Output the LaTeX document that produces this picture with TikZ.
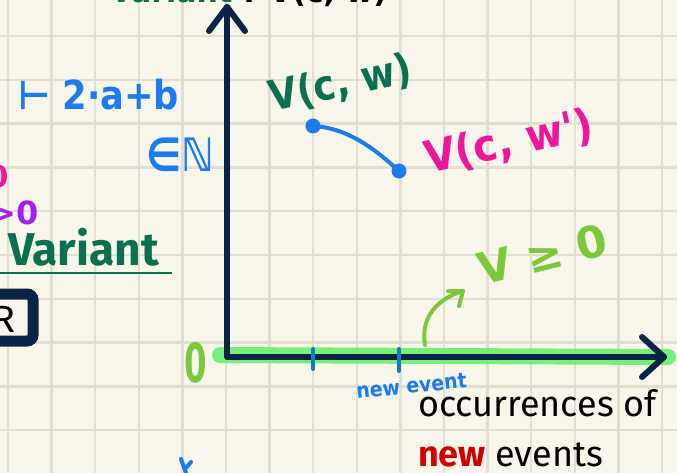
\documentclass[tikz,border=0pt]{standalone}
\usepackage{fontspec}
\setmainfont{Fira Sans}
\newfontfamily\hand{DejaVu Sans}
\usetikzlibrary{calc}
\definecolor{bg}{HTML}{F8F6EA}
\definecolor{gridc}{HTML}{E2DFD2}
\definecolor{navy}{HTML}{0B2345}
\definecolor{dgreen}{HTML}{0A7050}
\definecolor{pblue}{HTML}{1A7CF0}
\definecolor{ppink}{HTML}{F0169C}
\definecolor{ppurple}{HTML}{A020F0}
\definecolor{lgreen}{HTML}{7DC83A}
\definecolor{hilite}{HTML}{70F070}
\definecolor{pred}{HTML}{D00000}
\tikzset{
  gridline/.style={gridc, line width=2.5},
  axisline/.style={navy, line width=6, line cap=round, line join=round},
  pen/.style={line width=4, line cap=round, line join=round},
  handtxt/.style={inner sep=0pt, font=\hand},
  printtxt/.style={inner sep=0pt},
}
\begin{document}
\begin{tikzpicture}[x=1pt,y=-1pt]
\useasboundingbox (0,0) rectangle (677,473);
\clip (0,0) rectangle (677,473);
\fill[bg] (0,0) rectangle (677,473);
\foreach \i in {0,...,15} \draw[gridline] ({8+43.6*\i},0) -- ({8+43.6*\i},473);
\foreach \j in {0,...,10} \draw[gridline] (0,{36+43.8*\j}) -- (677,{36+43.8*\j});

% coordinates
\coordinate (o) at (227,357);
\coordinate (ytop) at (227,7);
\coordinate (xend) at (664,357);
\coordinate (t1) at (313,349);
\coordinate (t1b) at (313,369);
\coordinate (t2) at (399,349);
\coordinate (t2b) at (399,371);

% highlight
\draw[hilite, line width=16, line cap=round, opacity=0.95] (220,355) -- (668,357);

% axes
\draw[axisline] (ytop) -- (o) -- (xend);
\draw[axisline] ($(ytop)+(-18,24)$) -- (ytop) -- ($(ytop)+(18,24)$);
\draw[axisline] ($(xend)+(-22,-20)$) -- (xend) -- ($(xend)+(-22,20)$);

% ticks
\draw[pen, pblue!60!teal] (t1) -- (t1b);
\draw[pen, pblue!60!teal] (t2) -- (t2b);

% top cut-off label
\node[handtxt, anchor=base, dgreen, font=\hand\bfseries\fontsize{30}{30}\selectfont] (vartop) at (172,3) {variant};
\node[handtxt, anchor=base, black, font=\hand\bfseries\fontsize{30}{30}\selectfont] (vcwtop) at (315,3) {: V(c, w)};

% left texts
\node[handtxt, anchor=base west, pblue, font=\hand\bfseries\fontsize{40}{40}\selectfont] (expr) at (18,110) {\scalebox{0.88}[1]{⊢ 2·a+b}};
\node[handtxt, anchor=base west, pblue, font=\hand\bfseries\fontsize{46}{46}\selectfont] (nat) at (146,172) {\scalebox{0.85}[1]{∈ℕ}};
\node[handtxt, anchor=base, ppink, font=\hand\bfseries\fontsize{30}{30}\selectfont] (pinko) at (-2,188) {0};
\node[handtxt, anchor=base west, ppurple, font=\hand\bfseries\fontsize{32}{32}\selectfont] (purp) at (-11,224) {>0};

% Variant heading
\node[printtxt, anchor=base west, dgreen, font=\bfseries\fontsize{46}{46}\selectfont] (variant) at (8,265) {Variant};
\coordinate (ul1) at (0,273);
\coordinate (ul2) at (172,273);
\draw[dgreen, line width=2.5] (ul1) -- (ul2);

% R box
\draw[navy, line width=11, rounded corners=6, fill=bg] (-20,294) rectangle (33,341);
\node[printtxt, anchor=base west, black, font=\fontsize{38}{38}\selectfont] (rlab) at (-8,332) {R};

% green V(c,w)
\node[handtxt, anchor=base west, dgreen, rotate=12, font=\hand\bfseries\fontsize{42}{42}\selectfont] (vcw) at (272,112) {\scalebox{0.88}[1]{V(c, w)}};

% blue curve with dots
\coordinate (p1) at (313,126);
\coordinate (p2) at (399,171);
\draw[pblue, line width=4] (p1) .. controls (350,128) and (378,152) .. (p2);
\fill[pblue] (p1) circle (7.5);
\fill[pblue] (p2) circle (7.5);

% pink V(c,w')
\node[handtxt, anchor=base west, ppink, rotate=12, font=\hand\bfseries\fontsize{44}{44}\selectfont] (vcw2) at (428,174) {\scalebox{0.92}[1]{V(c, w')}};

% V >= 0
\node[handtxt, anchor=base west, lgreen, rotate=14, font=\hand\bfseries\fontsize{44}{44}\selectfont] (vge) at (482,286) {V ≥ 0};
\coordinate (ca1) at (425,345);
\coordinate (ca2) at (463,291);
\draw[pen, lgreen] (ca1) .. controls (420,315) and (440,298) .. (ca2);
\draw[pen, lgreen] (448,291) -- (ca2) -- (459,306);

% 0 label
\node[handtxt, anchor=base, lgreen, font=\hand\bfseries\fontsize{54}{54}\selectfont] (zero) at (196,382) {\scalebox{0.6}[1]{0}};

% new event
\node[handtxt, anchor=base west, pblue, rotate=6, font=\hand\bfseries\fontsize{21}{21}\selectfont] (newev) at (357,399) {\scalebox{0.9}[1]{new event}};

% occurrences
\node[printtxt, anchor=base west, black, font=\fontsize{36}{36}\selectfont] (occ) at (418,416) {occurrences of};
\node[printtxt, anchor=base west, font=\fontsize{36}{36}\selectfont] (newevs) at (418,466) {\textcolor{pred}{\bfseries new} events};

% bottom mark
\coordinate (m1) at (181,459);
\coordinate (m2) at (186,473);
\coordinate (m3) at (191,462);
\draw[pen, pblue] (m1) -- (m2);
\draw[pen, pblue] (m3) -- (185,469);
\end{tikzpicture}
\end{document}
